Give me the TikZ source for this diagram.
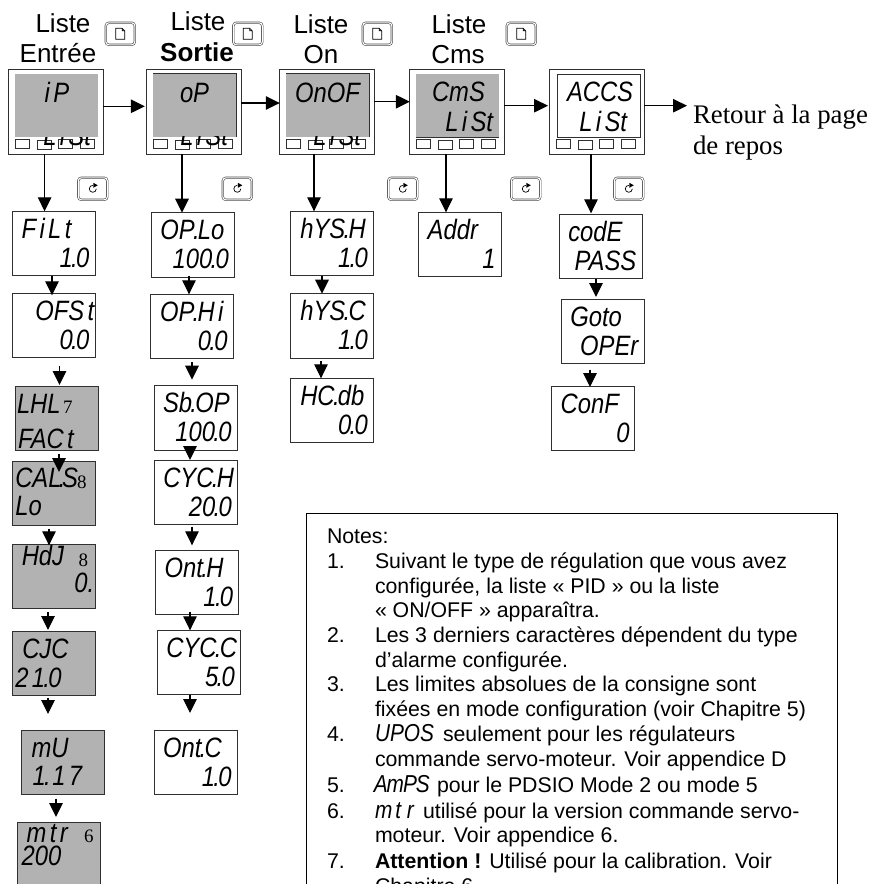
\documentclass[tikz,border=0pt]{standalone}
\usepackage{fontspec}
\setmainfont{Liberation Sans}
\newfontfamily\tnr{Liberation Serif}
\newfontfamily\segfont[FakeStretch=0.85]{Liberation Sans}
\usetikzlibrary{arrows.meta}
\definecolor{lcd}{HTML}{B2B2B2}
\definecolor{edge}{HTML}{303030}
\newcommand{\sg}{\segfont\itshape\fontsize{28}{28}\selectfont}
\newcommand{\sgs}{\segfont\itshape\fontsize{24.5}{24.5}\selectfont}
\newcommand{\dt}{\kern-.06em.\kern-.06em}
\newcommand{\tk}{\kern.12em}
\tikzset{
  arr/.style={line width=1.2pt,-{Triangle[length=14pt,width=13.5pt]}},
  pbox/.style={draw=edge,line width=.8pt,minimum width=83pt,minimum height=64.5pt,inner sep=0pt,outer sep=0pt,anchor=north west},
  graybox/.style={pbox,fill=lcd},
  devbox/.style={draw=edge,line width=.8pt,minimum width=94.5pt,minimum height=85pt,inner sep=0pt,outer sep=0pt,anchor=north west,fill=white},
  btn/.style={draw=edge,line width=.7pt,minimum width=13.5pt,minimum height=9pt,inner sep=0pt,outer sep=0pt,anchor=north west,fill=white},
  seg/.style={inner sep=0pt,outer sep=0pt,font=\sg},
  head/.style={inner sep=0pt,outer sep=0pt,anchor=base,font=\fontsize{26}{26}\selectfont},
  retour/.style={inner sep=0pt,outer sep=0pt,anchor=base west,font=\tnr\fontsize{26.8}{27}\selectfont},
  ref/.style={inner sep=0pt,outer sep=0pt,anchor=base west,font=\tnr\fontsize{19}{19}\selectfont},
  keyb/.style={draw=black!70,line width=.6pt,double=white,double distance=1.1pt,rounded corners=3pt,minimum width=29pt,minimum height=22pt,inner sep=0pt,anchor=north west},
  ico/.style={line width=.7pt,draw=black},
  nt/.style={inner sep=0pt,outer sep=0pt,anchor=base west,font=\fontsize{21.3}{21.3}\selectfont},
}
% parameter box
\newcommand{\pb}[4]{\node[#4] (#1) at (#2,#3) {};}
\newcommand{\tl}[4]{\node[seg,anchor=base west] (#1-t) at ([shift={(#2,#3)}]#1.north west) {#4};}
\newcommand{\br}[4]{\node[seg,anchor=base east] (#1-b) at ([shift={(-#2,#3)}]#1.north east) {#4};}
\newcommand{\bl}[4]{\node[seg,anchor=base west] (#1-b) at ([shift={(#2,#3)}]#1.north west) {#4};}
% vertical / horizontal links
\newcommand{\vl}[5]{\path (#3,0) coordinate (vx);
  \draw[arr,shorten <=#4pt,shorten >=#5pt] (#1.south -| vx) -- (#2.north -| vx);}
\newcommand{\hl}[4]{\path (0,#3) coordinate (hy);
  \draw[arr,shorten >=#4pt] (#1.east |- hy) -- (#2.west |- hy);}
% device
\newcommand{\dev}[6]{% name x y screenx screeny fillcolor
  \node[devbox] (#1) at (#2,#3) {};
  \node[inner sep=0pt,outer sep=0pt,minimum width=83pt,minimum height=63pt,anchor=north west,#6] (#1-s) at (#4,#5) {};
  \node[btn] (#1-b1) at ([shift={(7,70)}]#1.north west) {};
  \node[btn] (#1-b2) at ([shift={(29,71.5)}]#1.north west) {};
  \node[btn] (#1-b3) at ([shift={(50,70)}]#1.north west) {};
  \node[btn] (#1-b4) at ([shift={(72,70)}]#1.north west) {};
}
\newcommand{\pagekey}[3]{\node[keyb] (#1) at (#2,#3) {};
  \begin{scope}[shift={(#1.center)}]
   \draw[ico,fill=white] (-4.5,5.5) -- (-4.5,-5.5) -- (2,-5.5) -- (4.5,-3) -- (4.5,5.5) -- cycle (2,-5.5) -- (2,-3) -- (4.5,-3);
  \end{scope}}
\newcommand{\cyclekey}[3]{\node[keyb] (#1) at (#2,#3) {};
  \begin{scope}[shift={(#1.center)}]
   \draw[ico] (0,-3.5) arc[start angle=-90,delta angle=-270,radius=3.5];
   \fill (0.5,-6) -- (5,-3.5) -- (0.5,-1) -- cycle;
  \end{scope}}
\newcommand{\nline}[3]{\node[nt] (#1) at (375,#2) {#3};}
\newcommand{\nnum}[3]{\node[nt] (#1) at (327,#2) {#3};}
\begin{document}
\begin{tikzpicture}[x=1pt,y=-1pt]
\clip (0,0) rectangle (869,884);
\fill[white] (0,0) rectangle (869,884);
% headers
\node[head] (h1a) at (63,32) {Liste};
\node[head] (h1b) at (58,62) {Entrée};
\node[head] (h2a) at (198,30) {Liste};
\node[head] (h2b) at (197,61) {\bfseries Sortie};
\node[head] (h3a) at (321,33) {Liste};
\node[head] (h3b) at (321,63) {On};
\node[head] (h4a) at (459,33) {Liste};
\node[head] (h4b) at (458,63) {Cms};
\pagekey{k1}{105.5}{22.5}
\pagekey{k2}{233}{22.5}
\pagekey{k3}{362.5}{22.5}
\pagekey{k4}{506.5}{22.5}
\cyclekey{c1}{78}{177.5}
\cyclekey{c2}{222.5}{177.5}
\cyclekey{c3}{388}{177.5}
\cyclekey{c4}{511}{177.5}
\cyclekey{c5}{614}{177.5}
% devices
\dev{d1}{8.5}{69}{14.5}{74}{fill=lcd}
\dev{d2}{146.8}{69}{153}{73.5}{fill=lcd}
\dev{d3}{279.8}{69}{286}{73.5}{fill=lcd}
\dev{d4}{409.8}{69}{416}{74}{fill=lcd}
\dev{d5}{549.5}{69}{557}{74}{draw=edge,line width=.8pt,fill=white}
\draw[edge,line width=.8pt] (d2-s.north west) -- (d2-s.north east) -- (d2-s.south east);
\draw[edge,line width=.8pt] (d3-s.north west) -- (d3-s.north east) -- (d3-s.south east);
\draw[edge,line width=.8pt] (d4-s.south west) -- (d4-s.south east);
% screen texts
\node[seg,anchor=base west] (d1-t) at (40,102) {\,i\tk P};
\node[seg,anchor=base west] (d2-t) at (180,102) {oP};
\node[seg,anchor=base west] (d3-t) at (295,102) {OnOF};
\node[seg,anchor=base west] (d4-t) at (432,101) {CmS};
\node[seg,anchor=base east] (d4-u) at (493,131) {L\tk i\tk St};
\node[seg,anchor=base west] (d5-t) at (567,101) {ACCS};
\node[seg,anchor=base east] (d5-u) at (627,131) {L\tk i\tk St};
\begin{scope}
 \clip (d1-s.south west) rectangle ([yshift=-63pt]d1-s.south east);
 \node[seg,anchor=base east] (d1-u) at (91,145) {L\tk i\tk St};
\end{scope}
\begin{scope}
 \clip (d2-s.south west) rectangle ([yshift=-63pt]d2-s.south east);
 \node[seg,anchor=base east] (d2-u) at (228,145) {L\tk i\tk St};
\end{scope}
\begin{scope}
 \clip (d3-s.south west) rectangle ([yshift=-63pt]d3-s.south east);
 \node[seg,anchor=base east] (d3-u) at (361,145) {L\tk i\tk St};
\end{scope}
% column 1
\pb{a1}{12.3}{211.3}{pbox}
\tl{a1}{9.4}{27}{F\tk i\tk L\tk t}\br{a1}{6}{56}{1\dt0}
\pb{a2}{12.3}{293.3}{pbox}
\tl{a2}{23}{27}{OFS\tk t}\br{a2}{6}{56}{0\dt0}
\pb{a3}{15}{386}{graybox}
\tl{a3}{2}{27}{LHL}\bl{a3}{3}{62}{FAC\tk t}
\node[ref] (a3-n) at (63,413) {7};
\pb{a4}{12.3}{461}{graybox}
\tl{a4}{3}{26}{CAL\kern-.1em.\kern-.12em S}\bl{a4}{3}{54}{Lo}
\node[ref] (a4-n) at (77,488) {8};
\pb{a5}{12.3}{544.3}{graybox}
\tl{a5}{9.5}{21}{HdJ}\br{a5}{1}{48}{0.}
\node[ref] (a5-n) at (78.5,566) {8};
\pb{a6}{12.3}{631}{graybox}
\tl{a6}{10}{27}{CJC}\bl{a6}{3}{56}{2\tk 1\dt0}
\pb{a7}{21.5}{730}{graybox}
\tl{a7}{10}{27}{mU}\bl{a7}{11}{55}{1\dt\tk 1\tk 7}
\pb{a8}{17.7}{822}{graybox,minimum height=90pt}
\tl{a8}{9}{20}{m\tk t\tk r}\bl{a8}{4}{43.5}{200}
\node[ref] (a8-n) at (84,842) {6};
% column 2
\pb{b1}{151.3}{212.7}{pbox}
\tl{b1}{9}{27}{OP\dt Lo}\br{b1}{5.5}{56}{100\dt0}
\pb{b2}{150}{294.3}{pbox}
\tl{b2}{10}{27}{OP\dt H\tk i}\br{b2}{5.5}{56}{0\dt0}
\pb{b3}{154}{385.7}{pbox}
\tl{b3}{9}{27}{Sb\dt OP}\br{b3}{5.5}{56}{100\dt0}
\pb{b4}{154.3}{460}{pbox}
\tl{b4}{9}{27}{CYC\dt H}\br{b4}{5.5}{56}{20\dt0}
\pb{b5}{155.7}{550.3}{pbox}
\tl{b5}{9}{27}{Ont\dt H}\br{b5}{5.5}{56}{1\dt0}
\pb{b6}{157.3}{630.3}{pbox}
\tl{b6}{9}{27}{CYC\dt C}\br{b6}{5.5}{56}{5\dt0}
\pb{b7}{154}{730}{pbox}
\tl{b7}{9}{27}{Ont\dt C}\br{b7}{5.5}{56}{1\dt0}
% column 3
\pb{c1b}{290.3}{211.3}{pbox}
\tl{c1b}{10}{27}{hYS\dt H}\br{c1b}{5.5}{56}{1\dt0}
\pb{c2b}{290.3}{293.7}{pbox}
\tl{c2b}{10}{27}{hYS\dt C}\br{c2b}{5.5}{56}{1\dt0}
\pb{c3b}{290.3}{378.3}{pbox}
\tl{c3b}{10}{27}{HC\dt db}\br{c3b}{5.5}{56}{0\dt0}
% column 4
\pb{e1}{418.7}{212.3}{pbox}
\tl{e1}{9}{27}{Addr}\br{e1}{6}{56}{1}
% column 5
\pb{f1}{559.3}{214.3}{pbox}
\tl{f1}{9}{27}{codE}\br{f1}{6}{56}{PASS}
\pb{f2}{561.3}{299}{pbox}
\tl{f2}{9}{27}{Goto}\br{f2}{6}{56}{OPEr}
\pb{f3}{551.7}{386}{pbox}
\tl{f3}{9}{27}{ConF}\br{f3}{5}{56}{0}
% horizontal links
\hl{d1}{d2}{106.3}{2}
\hl{d2}{d3}{103}{0}
\hl{d3}{d4}{101.7}{0}
\hl{d4}{d5}{105.7}{1.5}
\coordinate (back) at (687,105.7);
\draw[arr] (d5.east |- back) -- (back);
% vertical links
\vl{d1}{a1}{44.6}{0}{0}
\vl{a1}{a2}{52}{0}{-2}
\vl{a2}{a3}{59.5}{8}{1}
\vl{a3}{a4}{59}{3}{-11}
\vl{a4}{a5}{49}{3}{-1}
\vl{a5}{a6}{48}{3}{1}
\vl{a6}{a7}{48}{2}{16}
\vl{a7}{a8}{56}{4}{5}
\vl{d2}{b1}{182}{0}{0}
\vl{b1}{b2}{189}{-1}{0}
\vl{b2}{b3}{192}{3}{6}
\vl{b3}{b4}{190}{-7}{0}
\vl{b4}{b5}{192}{2}{5}
\vl{b5}{b6}{190}{-3}{0}
\vl{b6}{b7}{190}{0}{17}
\vl{d3}{c1b}{314}{0}{0}
\vl{c1b}{c2b}{322}{0}{0}
\vl{c2b}{c3b}{321}{3}{0}
\vl{d4}{e1}{446}{0}{0}
\vl{d5}{f1}{591}{0}{1}
\vl{f1}{f2}{596}{0}{2}
\vl{f2}{f3}{590}{6}{-1}
% return text
\node[retour] (r1) at (693,123) {Retour à la page};
\node[retour] (r2) at (693,154) {de repos};
% notes
\node[draw=black,line width=1.4pt,minimum width=531pt,minimum height=400pt,inner sep=0pt,anchor=north west] (notes) at (306,513) {};
\nnum{n0}{543.5}{Notes:}
\nnum{n1}{568.5}{1.}
\nline{l1}{568.5}{Suivant le type de régulation que vous avez}
\nline{l2}{593}{configurée, la liste « PID » ou la liste}
\nline{l3}{617.7}{« ON/OFF » apparaîtra.}
\nnum{n2}{642.5}{2.}
\nline{l4}{642.5}{Les 3 derniers caractères dépendent du type}
\nline{l5}{667}{d’alarme configurée.}
\nnum{n3}{691.7}{3.}
\nline{l6}{691.7}{Les limites absolues de la consigne sont}
\nline{l7}{716.4}{fixées en mode configuration (voir Chapitre 5)}
\nnum{n4}{741.5}{4.}
\nline{l8}{741.5}{\makebox[68pt][l]{\sgs UPOS}seulement pour les régulateurs}
\nline{l9}{766.5}{commande servo-moteur. Voir appendice D}
\nnum{n5}{792.7}{5.}
\nline{l10}{792.7}{\makebox[62pt][l]{\sgs\kern-.05em A\kern-.04em m\kern-.04em P\kern-.04em S}pour le PDSIO Mode 2 ou mode 5}
\nnum{n6}{818}{6.}
\nline{l11}{818}{\makebox[48pt][l]{\sgs m\tk t\tk\tk r}utilisé pour la version commande servo-}
\nline{l12}{842.7}{moteur. Voir appendice 6.}
\nnum{n7}{868.3}{7.}
\nline{l13}{868.3}{\textbf{Attention !} Utilisé pour la calibration. Voir}
\nline{l14}{893.5}{Chapitre 6.}
\end{tikzpicture}
\end{document}
